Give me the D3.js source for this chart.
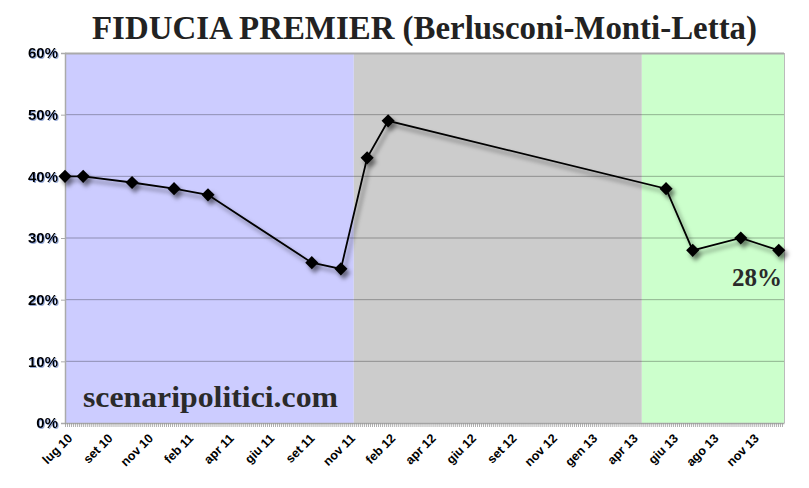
<!DOCTYPE html>
<html>
<head>
<meta charset="utf-8">
<script src="https://cdn.jsdelivr.net/npm/d3@7"></script>
<style>
  html, body { margin: 0; padding: 0; background: #fff; }
  svg { display: block; }
</style>
</head>
<body>
<svg id="chart" width="809" height="488"></svg>
<script>
// ---- data ----
const tickLabels = ["lug 10","set 10","nov 10","feb 11","apr 11","giu 11","set 11","nov 11","feb 12","apr 12","giu 12","set 12","nov 12","gen 13","apr 13","giu 13","ago 13","nov 13"];
const pollPos = [0, 0.45, 1.66, 2.70, 3.54, 6.11, 6.83, 7.48, 8.0, 14.88, 15.54, 16.73, 17.67];
const fiducia = [40, 40, 39, 38, 37, 26, 25, 43, 49, 38, 28, 30, 28];
const periodNames = ["Berlusconi", "Monti", "Letta"];
const periodStart = [0, 7.15, 14.28];
const periodEnd = [7.15, 14.28, 17.8];
const periodColors = ["#ccccff", "#cccccc", "#ccffcc"];
const yTicks = [0, 10, 20, 30, 40, 50, 60];
const titleText = "FIDUCIA PREMIER (Berlusconi-Monti-Letta)";
const lastLabel = "28%";
const watermark = "scenaripolitici.com";

// ---- layout ----
const svg = d3.select("#chart");
const L = 65, R = 784, T = 53, B = 423;
const x = d3.scaleLinear().domain([0, 17.8]).range([L, R]);
const y = d3.scaleLinear().domain([0, 60]).range([B, T]);

const defs = svg.append("defs");
const f = defs.append("filter").attr("id", "shadow")
  .attr("x", "-20%").attr("y", "-20%").attr("width", "140%").attr("height", "140%");
f.append("feDropShadow").attr("dx", 3).attr("dy", 4).attr("stdDeviation", 2)
  .attr("flood-color", "#000").attr("flood-opacity", 0.5);
const tf = defs.append("filter").attr("id", "tshadow");
tf.append("feDropShadow").attr("dx", 1).attr("dy", 1).attr("stdDeviation", 0.6)
  .attr("flood-color", "#3355aa").attr("flood-opacity", 0.5);

// title
svg.append("text")
  .attr("x", 92).attr("y", 39)
  .attr("textLength", 665).attr("lengthAdjust", "spacingAndGlyphs")
  .style("font-family", "'Liberation Serif', 'DejaVu Serif', serif")
  .style("font-weight", "bold").style("font-size", "34px")
  .style("fill", "#222")
  .text(titleText);

// background periods
svg.append("g").selectAll("rect").data(periodNames).join("rect")
  .attr("x", (d, i) => x(periodStart[i]))
  .attr("width", (d, i) => x(periodEnd[i]) - x(periodStart[i]))
  .attr("y", T).attr("height", B - T)
  .attr("fill", (d, i) => periodColors[i]);

// gridlines
svg.append("g").selectAll("line").data(yTicks.filter(v => v > 0 && v < 60)).join("line")
  .attr("x1", L).attr("x2", R)
  .attr("y1", d => y(d)).attr("y2", d => y(d))
  .attr("stroke", "#000").attr("stroke-opacity", 0.3).attr("stroke-width", 1);

// frame: top and right
svg.append("line").attr("x1", L).attr("x2", R).attr("y1", T + 0.5).attr("y2", T + 0.5)
  .attr("stroke", "#aaa").attr("stroke-width", 2);
svg.append("line").attr("x1", R + 0.5).attr("x2", R + 0.5).attr("y1", T).attr("y2", B)
  .attr("stroke", "#bbb").attr("stroke-width", 1);

// y axis
const yAxis = svg.append("g").attr("transform", `translate(${L},0)`)
  .call(d3.axisLeft(y).tickValues(yTicks).tickFormat(d => d + "%").tickSize(4).tickPadding(3));
yAxis.select(".domain").attr("stroke", "#aaa").attr("stroke-width", 1.5);
yAxis.selectAll(".tick line").attr("stroke", "#aaa");
yAxis.selectAll(".tick text")
  .style("font-family", "'Liberation Sans', Arial, sans-serif")
  .style("font-weight", "bold").style("font-size", "15px").style("fill", "#000")
  .attr("filter", "url(#tshadow)");

// x axis: minor ticks
const minor = d3.range(0, 17.8, 0.05);
const xMinor = svg.append("g").attr("transform", `translate(0,${B})`)
  .call(d3.axisBottom(x).tickValues(minor).tickFormat("").tickSize(4).tickSizeOuter(0));
xMinor.select(".domain").attr("stroke", "#aaa").attr("stroke-width", 1.5);
xMinor.selectAll(".tick line").attr("stroke", "#999").attr("stroke-width", 0.8);

// x axis labels (rotated 45 degrees)
svg.append("g").selectAll("text").data(tickLabels).join("text")
  .attr("transform", (d, i) => `translate(${x(i) + 5},${B + 13}) rotate(-45)`)
  .attr("text-anchor", "end")
  .attr("dy", "0.35em")
  .style("font-family", "'Liberation Sans', Arial, sans-serif")
  .style("font-weight", "bold").style("font-size", "12.5px").style("fill", "#000")
  .text(d => d);

// line + markers
const pts = pollPos.map((p, i) => [p, fiducia[i]]);
const g = svg.append("g").attr("filter", "url(#shadow)");
g.append("path").datum(pts)
  .attr("d", d3.line().x(d => x(d[0])).y(d => y(d[1])))
  .attr("fill", "none").attr("stroke", "#000").attr("stroke-width", 1.8);
g.selectAll("path.m").data(pts).join("path").attr("class", "m")
  .attr("d", d3.symbol(d3.symbolDiamond2, 110))
  .attr("transform", d => `translate(${x(d[0])},${y(d[1])})`)
  .attr("fill", "#000");

// watermark
svg.append("text").attr("x", 83).attr("y", 407)
  .attr("textLength", 255).attr("lengthAdjust", "spacingAndGlyphs")
  .style("font-family", "'Liberation Serif', 'DejaVu Serif', serif")
  .style("font-weight", "bold").style("font-size", "29px").style("fill", "#2a2a2a")
  .text(watermark);

// last value label
svg.append("text").attr("x", 782).attr("y", 286).attr("text-anchor", "end")
  .style("font-family", "'Liberation Serif', 'DejaVu Serif', serif")
  .style("font-weight", "bold").style("font-size", "25px").style("fill", "#2a2a2a")
  .text(lastLabel);
</script>
</body>
</html>
